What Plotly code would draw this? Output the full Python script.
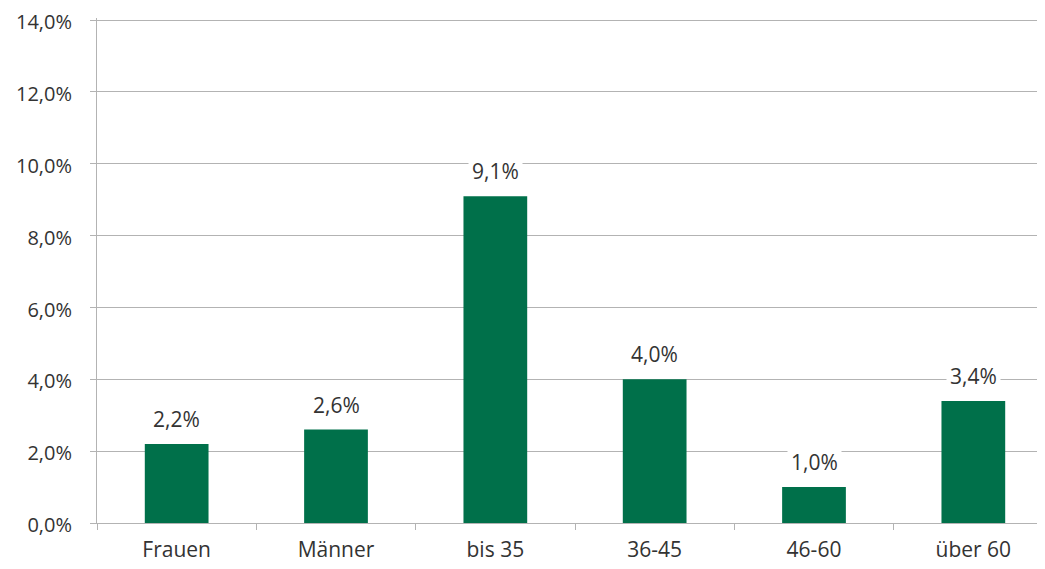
import plotly.graph_objects as go

categories = ["Frauen", "Männer", "bis 35", "36-45", "46-60", "über 60"]
values = [2.2, 2.6, 9.1, 4.0, 1.0, 3.4]

bar_color = "#00704A"
text_color = "#333333"
grid_color = "#B3B3B3"

fig = go.Figure(go.Bar(
    x=categories,
    y=values,
    marker=dict(color=bar_color, line=dict(width=0)),
    width=0.4,
    hoverinfo="x+y",
))

for c, v in zip(categories, values):
    fig.add_annotation(
        x=c, y=v, text=f"{v:.1f}%".replace(".", ","),
        showarrow=False, yshift=25, bgcolor="white",
        font=dict(size=21, color=text_color),
        borderpad=3,
    )

# the page body adds an 8px offset, so margins are shifted by that amount
fig.update_layout(
    width=1045,
    height=569,
    margin=dict(l=89, r=0, t=10, b=54),
    paper_bgcolor="white",
    plot_bgcolor="white",
    separators=",.",
    font=dict(family="Open Sans", size=21, color=text_color),
    showlegend=False,
    bargap=0.6,
)

fig.update_xaxes(
    range=[-0.5, 5.5],
    automargin=False,
    showline=True, linecolor=grid_color, linewidth=1,
    ticks="outside", tickson="boundaries", ticklen=6, tickcolor=grid_color,
    showgrid=False,
    ticklabelstandoff=8,
    tickfont=dict(size=21, color=text_color),
)

# slightly past 14 so the top gridline and its label are drawn
fig.update_yaxes(
    range=[0, 14.06], tick0=0, dtick=2, tickformat=".1f", ticksuffix="%",
    automargin=False,
    ticklabeloverflow="allow",
    showline=True, linecolor=grid_color, linewidth=1,
    ticks="outside", ticklen=6, tickcolor=grid_color,
    showgrid=True, gridcolor=grid_color, gridwidth=1,
    zeroline=False,
    ticklabelstandoff=14,
    ticklabelshift=2,
    tickfont=dict(size=20, color=text_color),
)

fig.write_html("out.html")
